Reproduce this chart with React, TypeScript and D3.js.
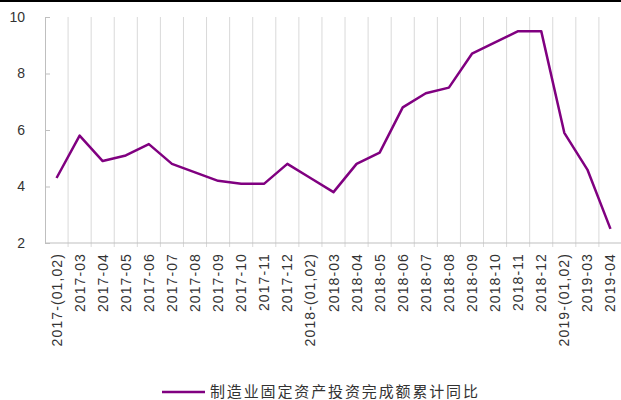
import * as d3 from "d3";
import { useEffect, useRef } from "react";

// x categories (month columns)
const categories = [
  "2017-(01,02)", "2017-03", "2017-04", "2017-05", "2017-06", "2017-07", "2017-08",
  "2017-09", "2017-10", "2017-11", "2017-12",
  "2018-(01,02)", "2018-03", "2018-04", "2018-05", "2018-06", "2018-07", "2018-08",
  "2018-09", "2018-10", "2018-11", "2018-12",
  "2019-(01,02)", "2019-03", "2019-04",
];
// 制造业固定资产投资完成额累计同比 (%)
const values = [
  4.3, 5.8, 4.9, 5.1, 5.5, 4.8, 4.5, 4.2, 4.1, 4.1, 4.8,
  4.3, 3.8, 4.8, 5.2, 6.8, 7.3, 7.5, 8.7, 9.1, 9.5, 9.5,
  5.9, 4.6, 2.5,
];
const yTicks = [2, 4, 6, 8, 10];
const seriesName = "制造业固定资产投资完成额累计同比";

const App = () => {
  const svgRef = useRef<SVGSVGElement>(null);
  const width = 621;
  const height = 400;

  useEffect(() => {
    const svg = d3.select(svgRef.current);
    svg.selectAll("*").remove();

    const left = 45, right = 622, top = 17, bottom = 243;
    const x = d3.scaleBand().domain(categories).range([left, right]);
    const y = d3.scaleLinear().domain([2, 10]).range([bottom, top]);
    const font = "'Liberation Sans', Arial, sans-serif";

    // black rule along the top
    svg.append("rect").attr("x", 0).attr("y", 0).attr("width", width).attr("height", 2).attr("fill", "#000");

    // vertical gridlines on band edges
    const edges = categories.map((c) => x(c)!).slice(1);
    svg.append("g").selectAll("line").data(edges).join("line")
      .attr("x1", (d) => d).attr("x2", (d) => d)
      .attr("y1", top).attr("y2", bottom + 4)
      .attr("stroke", "#d9d9d9").attr("stroke-width", 1);

    // y axis, ticks pointing inward
    const yAxis = d3.axisLeft(y).tickValues(yTicks).tickSize(-5).tickPadding(20).tickFormat(d3.format("d"));
    const gy = svg.append("g").attr("transform", `translate(${left},0)`).call(yAxis);
    gy.select(".domain").attr("stroke", "#bfbfbf");
    gy.selectAll(".tick line").attr("stroke", "#bfbfbf");
    gy.selectAll("text").attr("font-size", 14).attr("font-family", font).attr("fill", "#333");

    // x axis line
    svg.append("line").attr("x1", left).attr("x2", right).attr("y1", bottom).attr("y2", bottom)
      .attr("stroke", "#bfbfbf");

    // x labels, rotated
    svg.append("g").selectAll("text").data(categories).join("text")
      .attr("transform", (d) => `translate(${x(d)! + x.bandwidth() / 2 + 5},253) rotate(-90)`)
      .attr("text-anchor", "end")
      .attr("font-size", 14).attr("letter-spacing", 1.1)
      .attr("font-family", font).attr("fill", "#333")
      .text((d) => d);

    // series line
    const line = d3.line<number>()
      .x((d, i) => x(categories[i])! + x.bandwidth() / 2)
      .y((d) => y(d));
    svg.append("path").datum(values).attr("d", line)
      .attr("fill", "none").attr("stroke", "#800080").attr("stroke-width", 2.5)
      .attr("stroke-linejoin", "round");

    // legend
    const lg = svg.append("g").attr("transform", "translate(162,392)");
    lg.append("line").attr("x1", 0).attr("x2", 43).attr("y1", 0).attr("y2", 0)
      .attr("stroke", "#800080").attr("stroke-width", 2.5);
    lg.append("text").attr("x", 48).attr("y", 5).attr("font-size", 15)
      .attr("font-family", "'Noto Sans CJK SC', sans-serif").attr("fill", "#333")
      .attr("textLength", 268).text(seriesName);
  }, []);

  return (
    <svg ref={svgRef} width={width} height={height} style={{ position: "absolute", left: 0, top: 0 }}></svg>
  );
};

export default App;
